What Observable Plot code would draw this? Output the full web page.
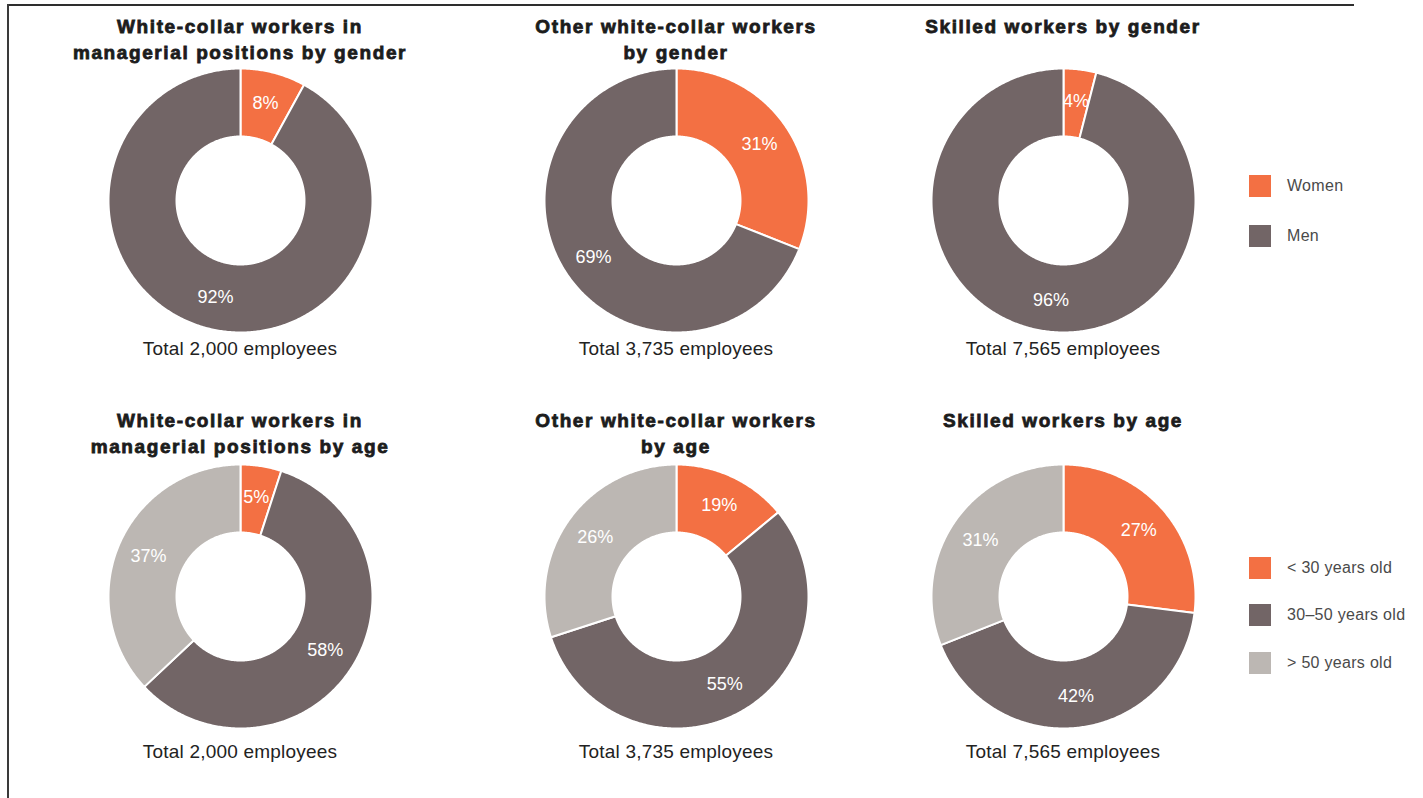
<!DOCTYPE html>
<html>
<head>
<meta charset="utf-8">
<script src="https://cdn.jsdelivr.net/npm/d3@7"></script>
<script src="https://cdn.jsdelivr.net/npm/@observablehq/plot@0.6"></script>
<style>
  body { margin: 0; background: #fff; font-family: "Liberation Sans", Arial, sans-serif; }
  #root { position: relative; width: 1423px; height: 798px; overflow: hidden; background: #fff; }
  .frame-top { position: absolute; left: 7px; top: 4px; width: 1347px; height: 2px; background: #2e2e2e; }
  .frame-left { position: absolute; left: 7px; top: 4px; width: 2px; height: 794px; background: #3a3a3a; }
  .chart { position: absolute; width: 440px; }
  .title { position: absolute; left: 0; width: 440px; text-align: center; font-weight: bold; font-size: 19px;
           letter-spacing: 1.6px; line-height: 26px; color: #1c1c1c; -webkit-text-stroke: 0.8px #1c1c1c; }
  .plot { position: absolute; left: 86px; }
  .total { position: absolute; left: 0; width: 440px; text-align: center; font-size: 19px; letter-spacing: 0.2px;
           line-height: 22px; color: #222; }
  .legend { position: absolute; left: 1249px; }
  .item { position: absolute; left: 0; white-space: nowrap; }
  .sw { position: absolute; left: 0; top: 0; width: 22px; height: 22px; }
  .lab { position: absolute; left: 38px; top: 1px; font-size: 16px; line-height: 20px; color: #4a4a4a; letter-spacing: 0.3px; }
</style>
</head>
<body>
<div id="root">
  <div class="frame-top"></div>
  <div class="frame-left"></div>
</div>
<script>
// ---- data ----
const genderCategories = ["Women", "Men"];
const ageCategories = ["< 30 years old", "30–50 years old", "> 50 years old"];
const genderTitles = [
  ["White-collar workers in", "managerial positions by gender"],
  ["Other white-collar workers", "by gender"],
  ["Skilled workers by gender"]
];
const ageTitles = [
  ["White-collar workers in", "managerial positions by age"],
  ["Other white-collar workers", "by age"],
  ["Skilled workers by age"]
];
const totals = ["2,000", "3,735", "7,565"];
// printed percentage labels
const genderShares = [[8, 92], [31, 69], [4, 96]];
const ageShares = [[5, 58, 37], [19, 55, 26], [27, 42, 31]];
// slice sizes as drawn in the picture (the middle age donut is drawn ~14/56/30)
const genderArcShares = [[8, 92], [31, 69], [4, 96]];
const ageArcShares = [[5, 58, 37], [14, 56, 30], [27, 42, 31]];

// ---- styles ----
const genderColors = ["#F37043", "#726566"];
const ageColors = ["#F37043", "#726566", "#BCB7B3"];

const root = document.getElementById("root");
const R = 1, R0 = 64 / 132, RL = 0.76;

function donut(arcValues, labelValues, cats, colors) {
  const arcs = d3.pie().sort(null).value(d => d.value)(arcValues.map((v, i) => ({cat: cats[i], value: v, label: labelValues[i]})));
  const pts = [];
  const labels = [];
  arcs.forEach((a, k) => {
    const span = a.endAngle - a.startAngle;
    const n = Math.max(2, Math.ceil(span / 0.01));
    const id = k;
    for (let i = 0; i <= n; i++) {
      const t = a.startAngle + span * i / n;
      pts.push({id, cat: a.data.cat, x: R * Math.sin(t), y: R * Math.cos(t)});
    }
    for (let i = n; i >= 0; i--) {
      const t = a.startAngle + span * i / n;
      pts.push({id, cat: a.data.cat, x: R0 * Math.sin(t), y: R0 * Math.cos(t)});
    }
    pts.push({id, cat: a.data.cat, x: R * Math.sin(a.startAngle), y: R * Math.cos(a.startAngle)});
    const mid = (a.startAngle + a.endAngle) / 2;
    labels.push({x: RL * Math.sin(mid), y: RL * Math.cos(mid), text: a.data.label + "%"});
  });
  return Plot.plot({
    width: 268, height: 268, margin: 2,
    x: {domain: [-1, 1], axis: null},
    y: {domain: [-1, 1], axis: null},
    color: {domain: cats, range: colors},
    style: {fontFamily: "Liberation Sans, Arial, sans-serif", background: "transparent"},
    marks: [
      Plot.line(pts, {x: "x", y: "y", z: "id", fill: "cat", stroke: "white", strokeWidth: 2, strokeLinejoin: "round", curve: "linear"}),
      Plot.text(labels, {x: "x", y: "y", text: "text", fill: "white", fontSize: 18})
    ]
  });
}

const centersX = [240, 676, 1063];
const rows = [
  {titles: genderTitles, shares: genderShares, arcShares: genderArcShares, cats: genderCategories, colors: genderColors, cy: 200, titleTop: 14, totalTop: 338},
  {titles: ageTitles, shares: ageShares, arcShares: ageArcShares, cats: ageCategories, colors: ageColors, cy: 596, titleTop: 408, totalTop: 741}
];

rows.forEach(row => {
  centersX.forEach((cx, j) => {
    const c = document.createElement("div");
    c.className = "chart";
    c.style.left = (cx - 220) + "px";
    c.style.top = "0px";
    const t = document.createElement("div");
    t.className = "title";
    t.style.top = row.titleTop + "px";
    t.innerHTML = row.titles[j].map(s => s.replace(/</g, "&lt;")).join("<br>");
    c.appendChild(t);
    const p = document.createElement("div");
    p.className = "plot";
    p.style.top = (row.cy - 134) + "px";
    p.appendChild(donut(row.arcShares[j], row.shares[j], row.cats, row.colors));
    c.appendChild(p);
    const tot = document.createElement("div");
    tot.className = "total";
    tot.style.top = row.totalTop + "px";
    tot.textContent = "Total " + totals[j] + " employees";
    c.appendChild(tot);
    root.appendChild(c);
  });
});

// legends
function legend(cats, colors, tops) {
  const l = document.createElement("div");
  l.className = "legend";
  cats.forEach((cat, i) => {
    const it = document.createElement("div");
    it.className = "item";
    it.style.top = tops[i] + "px";
    const sw = document.createElement("div");
    sw.className = "sw";
    sw.style.background = colors[i];
    const lab = document.createElement("div");
    lab.className = "lab";
    lab.textContent = cat;
    it.appendChild(sw); it.appendChild(lab);
    l.appendChild(it);
  });
  root.appendChild(l);
}
legend(genderCategories, genderColors, [175, 225]);
legend(ageCategories, ageColors, [557, 604, 652]);
</script>
</body>
</html>
